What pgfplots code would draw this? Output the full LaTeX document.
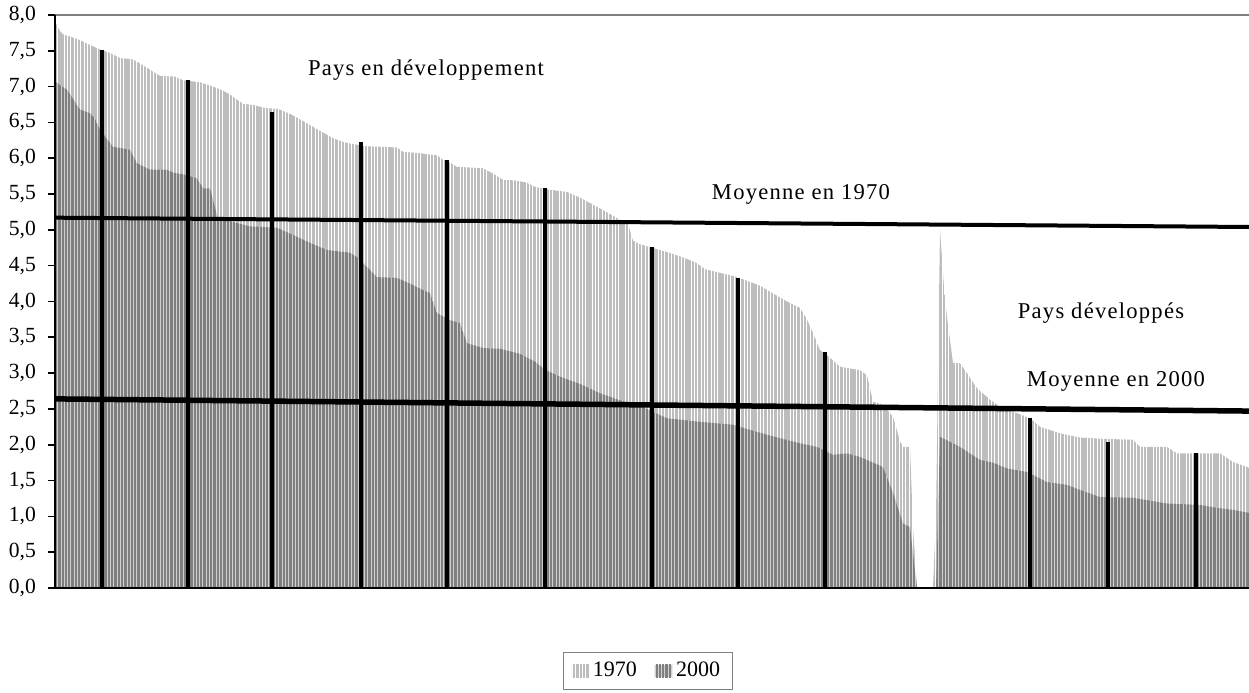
\documentclass[border=0pt]{standalone}
\usepackage{pgfplots}
\pgfplotsset{compat=1.18}
\usepackage{fontspec}
\setmainfont{Liberation Serif}
\usetikzlibrary{patterns.meta}
\definecolor{lightstripe}{HTML}{BDBDBD}
\definecolor{darkstripe}{HTML}{7F7F7F}
\definecolor{darkgap}{HTML}{D0D0D0}
\begin{document}
\begin{tikzpicture}
\begin{axis}[
  scale only axis,
  width=597pt, height=286.5pt,
  xmin=55, xmax=1249, ymin=0, ymax=8,
  axis x line*=bottom, axis y line*=left,
  axis line style={black, line width=0.8pt},
  xtick=\empty,
  ytick={0,0.5,...,8},
  yticklabel style={/pgf/number format/.cd, fixed, fixed zerofill, precision=1, use comma, assume math mode=true},
  tick style={black, line width=0.8pt},
  major tick length=3.5pt,
  tick align=outside,
  ticklabel style={font=\fontsize{10.8}{12}\selectfont},
  yticklabel shift=2.5pt,
  legend style={at={(0.4966,-0.1449)}, anchor=center, draw=gray, line width=0.5pt, legend columns=2,
     font=\fontsize{11}{13}\selectfont, inner xsep=4pt, inner ysep=3pt,
     /tikz/every even column/.append style={column sep=7pt}},
  legend image code/.code={\fill[#1] (0.1cm,-0.11cm) rectangle (0.4cm,0.11cm);},
  clip=false,
]
% 1970
\addplot[draw=none, pattern={Lines[angle=90,distance=1.65pt,line width=1.2pt]}, pattern color=lightstripe] coordinates {
(55,0) (55,8.0) (57,7.85) (60,7.78) (63,7.73) (70,7.70) (80,7.65) (90,7.58) (100,7.52) (110,7.47) (120,7.40) (133,7.38) (145,7.28) (160,7.15) (175,7.14) (183,7.09) (200,7.06) (213,7.0) (222,6.95) (230,6.89) (243,6.76) (255,6.74) (265,6.70) (278,6.69) (290,6.62) (303,6.52) (318,6.40) (333,6.28) (345,6.22) (357,6.19) (362,6.17) (380,6.16) (397,6.15) (403,6.09) (420,6.07) (437,6.04) (443,5.98) (450,5.94) (457,5.88) (470,5.87) (483,5.86) (495,5.77) (503,5.70) (515,5.69) (527,5.66) (535,5.60) (545,5.57) (555,5.55) (567,5.53) (580,5.45) (600,5.30) (615,5.18) (628,5.08) (633,4.85) (640,4.80) (652,4.75) (665,4.70) (680,4.63) (695,4.55) (705,4.45) (720,4.40) (735,4.35) (745,4.30) (760,4.22) (772,4.12) (787,4.0) (800,3.91) (807,3.75) (813,3.56) (820,3.32) (827,3.25) (840,3.09) (860,3.04) (867,2.97) (873,2.60) (883,2.56) (893,2.39) (900,2.05) (903,1.97) (910,1.97) (913,0.85) (917,0) (933,0) (936,1.0) (940,5.0) (944,4.2) (947,3.78) (953,3.14) (960,3.14) (967,3.0) (977,2.79) (990,2.63) (1000,2.53) (1017,2.44) (1030,2.37) (1040,2.25) (1060,2.16) (1080,2.10) (1107,2.08) (1133,2.07) (1140,1.97) (1167,1.97) (1177,1.88) (1220,1.88) (1233,1.76) (1249,1.68) (1249,0)
} \closedcycle;
\addlegendentry{1970}
% 2000
\addplot[draw=none, preaction={fill=darkgap}, pattern={Lines[angle=90,distance=1.65pt,line width=1.15pt]}, pattern color=darkstripe] coordinates {
(55,0) (55,7.08) (60,7.02) (67,6.96) (80,6.68) (90,6.63) (95,6.55) (100,6.40) (113,6.16) (130,6.12) (137,5.93) (150,5.84) (167,5.84) (173,5.80) (185,5.77) (197,5.72) (203,5.58) (210,5.58) (218,5.15) (230,5.12) (250,5.05) (277,5.03) (293,4.93) (310,4.82) (327,4.72) (350,4.68) (357,4.62) (363,4.54) (377,4.34) (397,4.33) (410,4.25) (423,4.16) (430,4.12) (437,3.84) (450,3.74) (460,3.70) (467,3.42) (483,3.35) (500,3.34) (520,3.27) (535,3.16) (545,3.05) (560,2.95) (580,2.85) (600,2.72) (620,2.62) (640,2.55) (653,2.46) (667,2.37) (700,2.32) (733,2.28) (740,2.25) (767,2.14) (800,2.02) (817,1.97) (833,1.86) (847,1.88) (860,1.83) (883,1.69) (893,1.33) (903,0.90) (910,0.85) (917,0) (936,0) (940,2.11) (960,1.97) (970,1.88) (980,1.79) (993,1.75) (1007,1.67) (1027,1.62) (1047,1.48) (1067,1.44) (1080,1.37) (1100,1.27) (1133,1.26) (1167,1.18) (1200,1.16) (1217,1.12) (1233,1.09) (1249,1.05) (1249,0)
} \closedcycle;
\addlegendentry{2000}
% vertical markers
\addplot[forget plot, ycomb, black, line width=1.65pt, mark=none] coordinates {
(102,7.51) (188,7.09) (272,6.65) (361,6.22) (447,5.98) (545,5.59) (652,4.76) (738,4.33) (825,3.30) (1030,2.37) (1108,2.04) (1196,1.89)
};
% means
\addplot[forget plot, black, line width=2pt] coordinates {(55,5.17) (1249,5.04)};
\addplot[forget plot, black, line width=2.75pt] coordinates {(55,2.64) (1249,2.47)};
\draw[gray, line width=0.8pt] (rel axis cs:0,1) -- (rel axis cs:1,1);
\draw[black, line width=0.8pt] (rel axis cs:0,0) -- (rel axis cs:0,1);
\draw[black, line width=0.8pt] (rel axis cs:0,0) -- (rel axis cs:1,0);
% annotations
\node[font=\fontsize{11.3}{13}\selectfont\addfontfeatures{LetterSpace=5.5}] at (axis cs:426,7.23) {Pays en développement};
\node[font=\fontsize{11.3}{13}\selectfont\addfontfeatures{LetterSpace=5.5}] at (axis cs:801,5.49) {Moyenne en 1970};
\node[font=\fontsize{11.3}{13}\selectfont\addfontfeatures{LetterSpace=5.5}] at (axis cs:1101,3.84) {Pays développés};
\node[font=\fontsize{11.3}{13}\selectfont\addfontfeatures{LetterSpace=5.5}] at (axis cs:1116,2.89) {Moyenne en 2000};
\end{axis}
\pgfresetboundingbox
\path[use as bounding box] ([xshift=-27.5pt,yshift=-52.5pt]current axis.south west) rectangle ([yshift=7.5pt]current axis.north east);
\end{tikzpicture}
\end{document}
